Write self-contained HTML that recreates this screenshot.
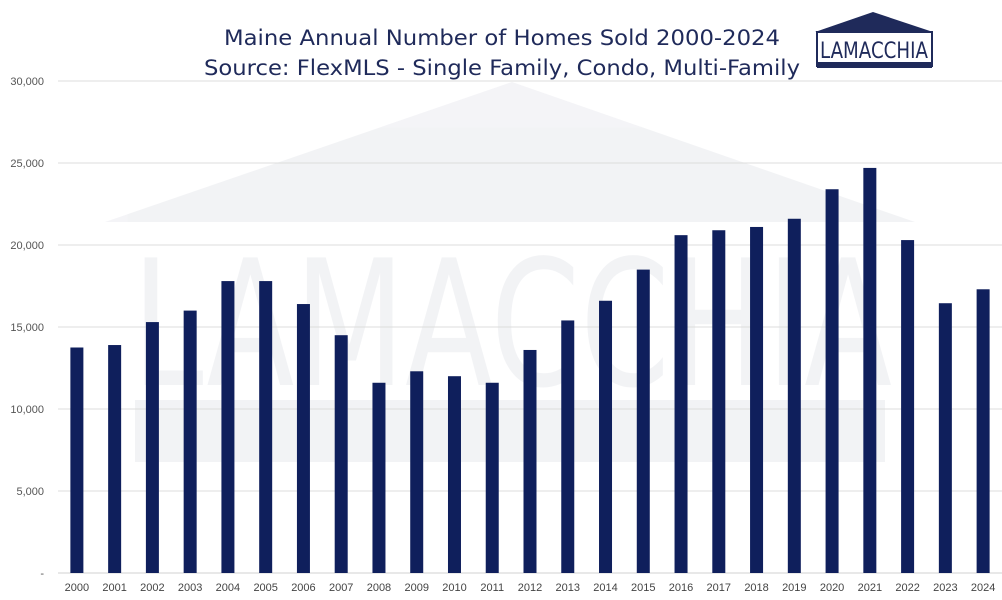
<!DOCTYPE html>
<html><head><meta charset="utf-8"><style>
body{margin:0;background:#fff;width:1002px;height:595px;overflow:hidden;font-family:"Liberation Sans",sans-serif}
</style></head><body>
<svg id="chart" width="1002" height="595" xmlns="http://www.w3.org/2000/svg">
<g opacity="0.05">
<polygon points="105,222 512,82 915,222" fill="#1f2a5a"/>
<rect x="645" y="158" width="45" height="50" fill="#1f2a5a"/>
<text x="512" y="385" text-anchor="middle" font-family="DejaVu Sans,sans-serif" font-size="175" fill="#1f2a5a" textLength="760" lengthAdjust="spacingAndGlyphs">LAMACCHIA</text>
<rect x="135" y="400" width="750" height="62" fill="#1f2a5a"/>
</g>
<g id="grid"></g>
<g id="bars"></g>
<g id="yaxis"></g>
<g id="xaxis"></g>
<g font-family="DejaVu Sans,sans-serif" font-size="21" fill="#1f2a5a" text-anchor="middle">
<text x="502" y="45" textLength="556" lengthAdjust="spacingAndGlyphs">Maine Annual Number of Homes Sold 2000-2024</text>
<text x="502" y="75" textLength="596" lengthAdjust="spacingAndGlyphs">Source: FlexMLS - Single Family, Condo, Multi-Family</text>
</g>
<g>
<polygon points="815,32 873,12 933,32" fill="#1f2a5a"/>
<rect x="817" y="32" width="115" height="34" fill="#fff" stroke="#1f2a5a" stroke-width="2"/>
<text x="874" y="58" text-anchor="middle" font-family="DejaVu Sans,sans-serif" font-size="22" fill="#1f2a5a" textLength="108" lengthAdjust="spacingAndGlyphs">LAMACCHIA</text>
<rect x="817" y="62" width="115" height="6" fill="#1f2a5a"/>
</g>
</svg>
<script>
const years=["2000","2001","2002","2003","2004","2005","2006","2007","2008","2009","2010","2011","2012","2013","2014","2015","2016","2017","2018","2019","2020","2021","2022","2023","2024"];
const sold=[13750,13900,15300,16000,17800,17800,16400,14500,11600,12300,12000,11600,13600,15400,16600,18500,20600,20900,21100,21600,23400,24700,20300,16450,17300];
const yTicks=[0,5000,10000,15000,20000,25000,30000];
const yTickLabels=["-","5,000","10,000","15,000","20,000","25,000","30,000"];
const NS="http://www.w3.org/2000/svg";
const x0=58,x1=1002,yB=573,yT=81,yMax=30000;
const step=(x1-x0)/years.length;
const y=v=>yB-(v/yMax)*(yB-yT);
const xc=i=>x0+step*(i+0.5);
const g=document.getElementById('grid'),b=document.getElementById('bars'),ya=document.getElementById('yaxis'),xa=document.getElementById('xaxis');
function mk(t,a){const e=document.createElementNS(NS,t);for(const k in a)e.setAttribute(k,a[k]);return e;}
yTicks.forEach((v,i)=>{
 const l=mk('line',{x1:x0,x2:x1,y1:y(v),y2:y(v),stroke:i==0?'#d0d0d0':'#dcdcdc','stroke-width':1});
 
 
 g.appendChild(l);
 const t=mk('text',{x:44,y:y(v)+4,'text-anchor':'end','font-size':11,fill:'#555'});
 t.textContent=yTickLabels[i];
 
 
 ya.appendChild(t);
});
years.forEach((yr,i)=>{
 const r=mk('rect',{x:xc(i)-6.5,y:y(sold[i]),width:13,height:yB-y(sold[i]),fill:'#0f1f5c'});
 
 
 b.appendChild(r);
 const t=mk('text',{x:xc(i),y:591,'text-anchor':'middle','font-size':11,fill:'#444'});
 t.textContent=yr;
 
 
 xa.appendChild(t);
});
</script>
</body></html>
